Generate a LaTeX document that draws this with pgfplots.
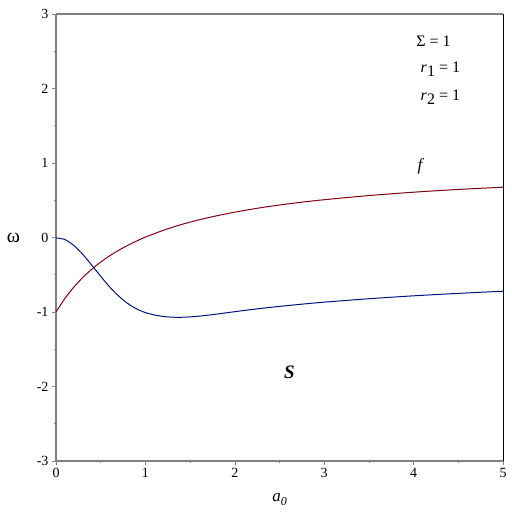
\documentclass[border=0pt]{standalone}
\usepackage{pgfplots}
\pgfplotsset{compat=1.18}
\usepackage{fontspec}
\setmainfont{Liberation Serif}
\definecolor{fred}{RGB}{128,0,20}
\definecolor{sblue}{RGB}{0,20,128}
\definecolor{axgray}{RGB}{128,128,128}
\begin{document}
\begin{tikzpicture}
\begin{axis}[
  scale only axis, width=447pt, height=447pt,
  xmin=0, xmax=5, ymin=-3, ymax=3,
  clip=false,
  axis line style={draw=none},
  xtick={0,1,2,3,4,5}, ytick={-3,-2,-1,0,1,2,3},
  minor xtick={0.5,1.5,2.5,3.5,4.5}, minor ytick={-2.5,-1.5,-0.5,0.5,1.5,2.5},
  tick style={axgray, line width=0.6pt},
  major tick length=4pt, minor tick length=2.5pt,
  tick align=outside,
  xtick pos=bottom, ytick pos=left,
  /pgf/number format/assume math mode=true,
  ticklabel style={font=\fontsize{14}{16}\selectfont},
  xlabel={\textit{a\raisebox{-0.45ex}{\fontsize{12}{13}\selectfont 0}}},
  xlabel style={font=\fontsize{17}{19}\selectfont, at={(rel axis cs:0.5,-0.065)}, anchor=north},
  ylabel={ω},
  ylabel style={rotate=-90, font=\fontsize{20}{22}\selectfont, at={(rel axis cs:-0.095,0.5)}, anchor=center},
]
% axis frame
\draw[axgray, line width=1.5pt] (rel axis cs:0,1) -- (rel axis cs:0,0) -- (rel axis cs:1,0);
\draw[axgray, line width=1.5pt] (rel axis cs:0,1) -- (rel axis cs:1,1);
\draw[black, line width=1pt] (rel axis cs:1,0) -- (rel axis cs:1,1);
% bounding box
\path (rel axis cs:-0.1253,-0.132) rectangle (rel axis cs:1.0200,1.0313);

\addplot[fred, line width=1pt, smooth] coordinates {
(0,-1.000) (0.1,-0.817) (0.2,-0.665) (0.3,-0.536) (0.4,-0.426) (0.5,-0.330)
(0.6,-0.246) (0.7,-0.172) (0.8,-0.107) (0.9,-0.048) (1.0,0.005) (1.2,0.096)
(1.4,0.173) (1.6,0.237) (1.8,0.292) (2.0,0.340) (2.25,0.392) (2.5,0.436)
(2.75,0.474) (3.0,0.507) (3.5,0.563) (4.0,0.608) (4.5,0.645) (5.0,0.675)};
\addplot[sblue, line width=1pt, smooth] coordinates {
(0,-0.005) (0.1,-0.028) (0.2,-0.108) (0.3,-0.228) (0.4,-0.371) (0.5,-0.521)
(0.6,-0.663) (0.7,-0.785) (0.8,-0.884) (0.9,-0.958) (1.0,-1.008) (1.1,-1.040)
(1.2,-1.060) (1.3,-1.070) (1.4,-1.071) (1.5,-1.066) (1.6,-1.056) (1.7,-1.043)
(1.8,-1.028) (1.9,-1.012) (2.0,-0.996) (2.25,-0.958) (2.5,-0.925) (2.75,-0.895)
(3.0,-0.868) (3.5,-0.822) (4.0,-0.783) (4.5,-0.750) (5.0,-0.721)};

\node[font=\fontsize{19}{21}\selectfont\bfseries\itshape] at (axis cs:2.61,-1.81) {S};
\node[font=\fontsize{17}{19}\selectfont\itshape] at (axis cs:4.07,0.95) {f};
\node[font=\fontsize{16}{18}\selectfont, anchor=west] at (axis cs:3.99,2.63) {Σ = 1};
\node[font=\fontsize{16}{18}\selectfont, anchor=west] at (axis cs:4.04,2.26) {\textit{r}\raisebox{-0.6ex}{1} = 1};
\node[font=\fontsize{16}{18}\selectfont, anchor=west] at (axis cs:4.04,1.88) {\textit{r}\raisebox{-0.6ex}{2} = 1};
\end{axis}
\end{tikzpicture}
\end{document}
